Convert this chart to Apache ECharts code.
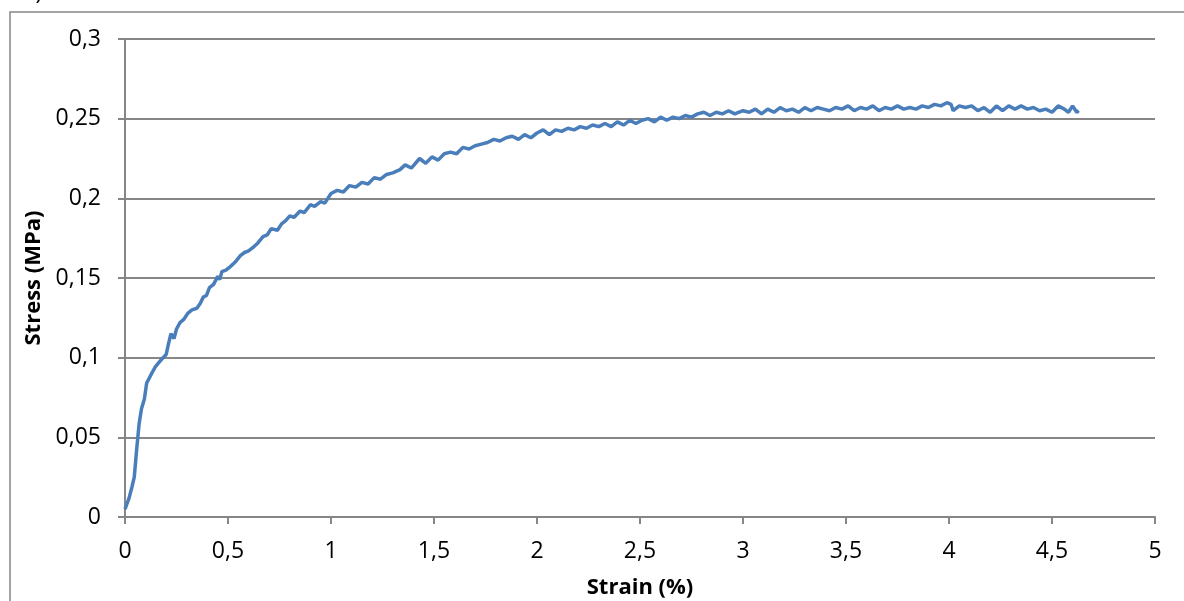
<!DOCTYPE html>
<html style="height: 100%">
<head>
    <meta charset="utf-8">
    <title>Stress - Strain</title>
</head>
<body style="height: 100%; margin: 0; background: #fff">
<div id="container" style="width: 1184px; height: 601px"></div>
<script type="text/javascript" src="https://cdn.jsdelivr.net/npm/echarts@6/dist/echarts.min.js"></script>
<script type="text/javascript">
    // strain (%)
    var strain = [
        0, 0.02, 0.034, 0.045, 0.055, 0.068, 0.08, 0.094, 0.105, 0.125,
        0.146, 0.165, 0.185, 0.2, 0.21, 0.223, 0.238, 0.25, 0.267, 0.285,
        0.306, 0.325, 0.349, 0.365, 0.38, 0.395, 0.41, 0.43, 0.45, 0.46,
        0.47, 0.49, 0.51, 0.535, 0.56, 0.58, 0.6, 0.62, 0.645, 0.67,
        0.69, 0.71, 0.74, 0.76, 0.78, 0.8, 0.82, 0.85, 0.87, 0.9,
        0.92, 0.95, 0.97, 1.0, 1.03, 1.06, 1.09, 1.12, 1.15, 1.18,
        1.21, 1.24, 1.27, 1.3, 1.335, 1.36, 1.39, 1.43, 1.46, 1.49,
        1.52, 1.55, 1.58, 1.61, 1.64, 1.67, 1.7, 1.73, 1.76, 1.79,
        1.82, 1.85, 1.88, 1.91, 1.94, 1.97, 2.0, 2.03, 2.06, 2.09,
        2.12, 2.15, 2.18, 2.21, 2.24, 2.27, 2.3, 2.33, 2.36, 2.39,
        2.42, 2.45, 2.48, 2.51, 2.54, 2.57, 2.6, 2.63, 2.66, 2.69,
        2.72, 2.75, 2.78, 2.81, 2.84, 2.87, 2.9, 2.93, 2.96, 3.0,
        3.03, 3.06, 3.09, 3.12, 3.15, 3.18, 3.21, 3.24, 3.27, 3.3,
        3.33, 3.36, 3.39, 3.42, 3.45, 3.48, 3.51, 3.54, 3.57, 3.6,
        3.63, 3.66, 3.69, 3.72, 3.75, 3.78, 3.81, 3.84, 3.87, 3.9,
        3.93, 3.96, 3.99, 4.01, 4.02, 4.05, 4.08, 4.11, 4.14, 4.17,
        4.2, 4.23, 4.26, 4.29, 4.32, 4.35, 4.38, 4.41, 4.44, 4.47,
        4.5, 4.53, 4.56, 4.58, 4.6, 4.62, 4.63
    ];
    // stress (MPa)
    var stress = [
        0.005, 0.012, 0.019, 0.025, 0.040, 0.058, 0.068, 0.074, 0.084, 0.089,
        0.094, 0.097, 0.100, 0.102, 0.108, 0.115, 0.112, 0.118, 0.122, 0.124,
        0.128, 0.130, 0.131, 0.134, 0.138, 0.139, 0.144, 0.146, 0.151, 0.149,
        0.154, 0.155, 0.157, 0.160, 0.164, 0.166, 0.167, 0.169, 0.172, 0.176,
        0.177, 0.181, 0.180, 0.184, 0.186, 0.189, 0.188, 0.192, 0.191, 0.196,
        0.195, 0.198, 0.197, 0.203, 0.205, 0.204, 0.208, 0.207, 0.210, 0.209,
        0.213, 0.212, 0.215, 0.216, 0.218, 0.221, 0.219, 0.225, 0.222, 0.226,
        0.224, 0.228, 0.229, 0.228, 0.232, 0.231, 0.233, 0.234, 0.235, 0.237,
        0.236, 0.238, 0.239, 0.237, 0.240, 0.238, 0.241, 0.243, 0.240, 0.243,
        0.242, 0.244, 0.243, 0.245, 0.244, 0.246, 0.245, 0.247, 0.245, 0.248,
        0.246, 0.249, 0.247, 0.249, 0.250, 0.248, 0.251, 0.249, 0.251, 0.250,
        0.252, 0.251, 0.253, 0.254, 0.252, 0.254, 0.253, 0.255, 0.253, 0.255,
        0.254, 0.256, 0.253, 0.256, 0.254, 0.257, 0.255, 0.256, 0.254, 0.257,
        0.255, 0.257, 0.256, 0.255, 0.257, 0.256, 0.258, 0.255, 0.257, 0.256,
        0.258, 0.255, 0.257, 0.256, 0.258, 0.256, 0.257, 0.256, 0.258, 0.257,
        0.259, 0.258, 0.260, 0.259, 0.255, 0.258, 0.257, 0.258, 0.255, 0.257,
        0.254, 0.258, 0.255, 0.258, 0.256, 0.258, 0.256, 0.257, 0.255, 0.256,
        0.254, 0.258, 0.256, 0.254, 0.258, 0.254, 0.255
    ];
    var xTicks = [0, 0.5, 1, 1.5, 2, 2.5, 3, 3.5, 4, 4.5, 5];
    var yTicks = [0, 0.05, 0.1, 0.15, 0.2, 0.25, 0.3];

    var points = [];
    for (var i = 0; i < strain.length; i++) {
        points.push([strain[i], stress[i]]);
    }

    function comma(v) {
        return String(v).replace('.', ',');
    }

    var grey = '#868686';
    var font = '"Open Sans", "Noto Sans", sans-serif';

    var myChart = echarts.init(document.getElementById('container'));
    var option = {
        animation: false,
        backgroundColor: '#fff',
        textStyle: {fontFamily: font},
        graphic: [
            {
                type: 'rect',
                shape: {x: 10, y: 12, width: 1200, height: 620},
                style: {fill: 'none', stroke: grey, lineWidth: 1.5}
            },
            {
                type: 'text',
                left: 22,
                top: -17,
                style: {text: 'b)', font: '22px ' + font, fill: '#000'}
            }
        ],
        grid: {left: 125, right: 29, top: 39, bottom: 84, outerBoundsMode: 'none'},
        xAxis: {
            type: 'value',
            min: xTicks[0],
            max: xTicks[xTicks.length - 1],
            interval: 0.5,
            name: 'Strain (%)',
            nameLocation: 'middle',
            nameGap: 60,
            nameTextStyle: {fontSize: 22, fontWeight: 'bold', color: '#000', fontFamily: font},
            axisLine: {lineStyle: {color: grey, width: 2}},
            axisTick: {show: true, length: 7, lineStyle: {color: grey, width: 2}},
            axisLabel: {fontSize: 23, color: '#000', margin: 23, formatter: comma},
            splitLine: {show: false}
        },
        yAxis: {
            type: 'value',
            min: yTicks[0],
            max: yTicks[yTicks.length - 1],
            interval: 0.05,
            name: 'Stress (MPa)',
            nameLocation: 'middle',
            nameGap: 80,
            nameTextStyle: {fontSize: 22, fontWeight: 'bold', color: '#000', fontFamily: font},
            axisLine: {show: true, lineStyle: {color: grey, width: 2}},
            axisTick: {show: true, length: 7, lineStyle: {color: grey, width: 2}},
            axisLabel: {fontSize: 23, color: '#000', margin: 24, formatter: comma},
            splitLine: {show: true, lineStyle: {color: grey, width: 2}}
        },
        series: [
            {
                name: 'Stress',
                type: 'line',
                data: points,
                showSymbol: false,
                smooth: false,
                lineStyle: {color: '#4a7ebb', width: 3.5},
                itemStyle: {color: '#4a7ebb'}
            }
        ]
    };
    myChart.setOption(option, true);
</script>
</body>
</html>
